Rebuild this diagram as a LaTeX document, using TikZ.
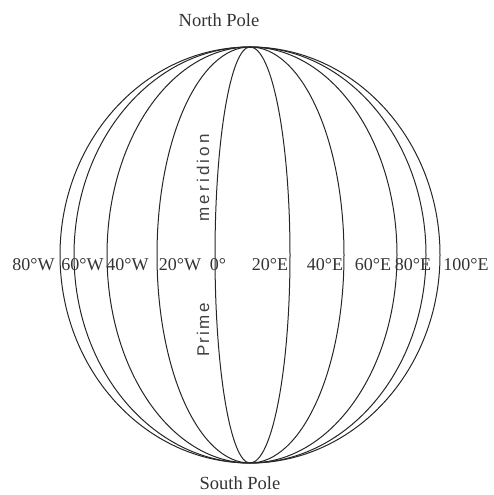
\documentclass[tikz,border=0pt]{standalone}
\usepackage{fontspec}
\setmainfont{Liberation Serif}
\newfontfamily\labsf{Liberation Sans}
\begin{document}
\begin{tikzpicture}[x=1pt,y=1pt,
  meridian/.style={draw=black!85, line width=1pt},
  deglabel/.style={font=\fontsize{18}{18}\selectfont, inner sep=0pt, text=black!80, anchor=base},
  polelabel/.style={font=\fontsize{18.5}{18.5}\selectfont, inner sep=0pt, text=black!80},
  rotlabel/.style={font=\labsf\fontsize{17}{17}\selectfont, inner sep=0pt, text=black!75, rotate=90}]
\useasboundingbox (0,0) rectangle (493,495);
\coordinate (C) at (250,240);
\coordinate (NP) at (250,448);
\coordinate (SP) at (250,32);
% outline
\draw[meridian] (C) ellipse [x radius=190, y radius=208];
% western meridians
\foreach \r in {176,143,93,35}
  \draw[meridian] (NP) arc[start angle=90, end angle=270, x radius=\r, y radius=208];
% eastern meridians
\foreach \r in {40,94,147,176}
  \draw[meridian] (NP) arc[start angle=90, end angle=-90, x radius=\r, y radius=208];
% pole labels
\node[polelabel] (north) at (219,475) {North Pole};
\node[polelabel] (south) at (240,12) {South Pole};
% degree labels
\node[deglabel] (w80) at (33.5,224) {80°W};
\node[deglabel] (w60) at (82.5,224) {60°W};
\node[deglabel] (w40) at (127.5,224) {40°W};
\node[deglabel] (w20) at (180,224) {20°W};
\node[deglabel] (z0) at (218,224) {0°};
\node[deglabel] (e20) at (270,224) {20°E};
\node[deglabel] (e40) at (325,224) {40°E};
\node[deglabel] (e60) at (373,224) {60°E};
\node[deglabel] (e80) at (413,224) {80°E};
\node[deglabel] (e100) at (466,224) {100°E};
% rotated labels
\node[rotlabel] (mer) at (203,317) {m\kern3.2pt e\kern3.2pt r\kern3.2pt i\kern3.2pt d\kern3.2pt i\kern3.2pt o\kern3.2pt n};
\node[rotlabel] (prime) at (203,165) {P\kern2.4pt r\kern2.4pt i\kern2.4pt m\kern2.4pt e};
\end{tikzpicture}
\end{document}
